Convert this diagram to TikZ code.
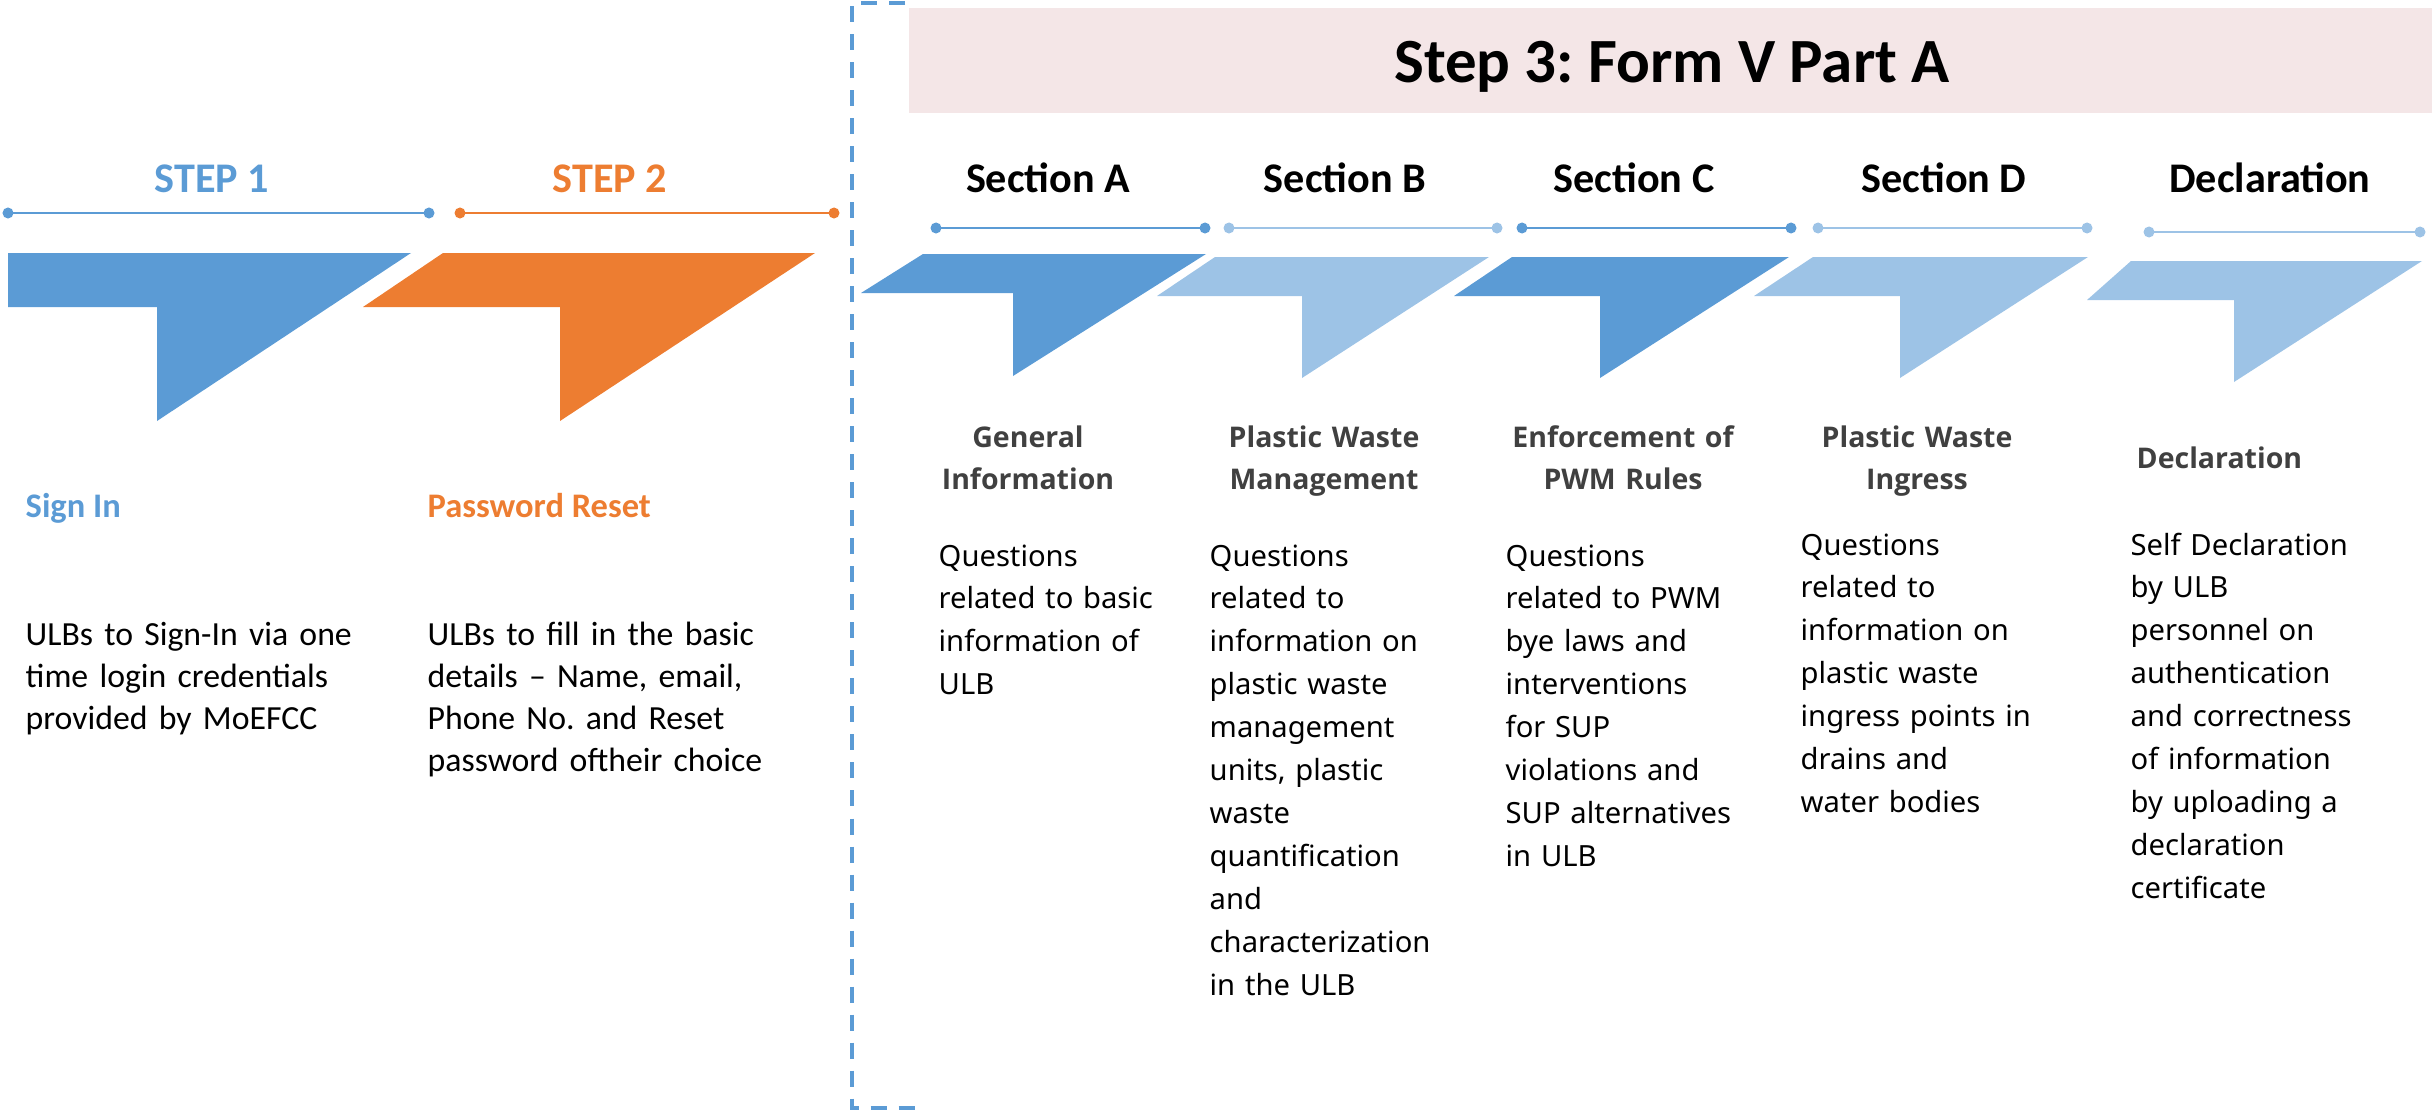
\documentclass[tikz,border=0pt]{standalone}
\usepackage{fontspec}
\setmainfont{Carlito}
\newfontfamily\notosans{Noto Sans}
\newfontfamily\opensans{Open Sans}
\frenchspacing
\definecolor{darkblue}{HTML}{5B9BD5}
\definecolor{lightblue}{HTML}{9DC3E6}
\definecolor{steporange}{HTML}{ED7D31}
\definecolor{bannerpink}{HTML}{F4E6E7}
\definecolor{subgray}{HTML}{404040}
\tikzset{
	dot/.style={circle, fill=#1, inner sep=0pt, minimum size=0.11cm},
	bar/.style={draw=#1, line width=0.85pt},
	head/.style={font=\fontsize{12}{14}\selectfont\bfseries, anchor=base, inner sep=0pt},
	stephead/.style={font=\fontsize{9.8}{12}\selectfont\bfseries, anchor=base west, inner sep=0pt},
	stepbody/.style={font=\fontsize{9.6}{11.95}\selectfont, anchor=base west, inner sep=0pt, text width=4cm, align=left},
	subhead/.style={font=\opensans\fontsize{8.1}{12}\selectfont\bfseries, text=subgray, anchor=base, inner sep=0pt, text width=3cm, align=center},
	secbody/.style={font=\notosans\fontsize{8.3}{12.2}\selectfont, anchor=base west, inner sep=0pt, text width=3cm, align=left}
}
\begin{document}
\begin{tikzpicture}[x=0.01cm, y=-0.01cm]
	\useasboundingbox (0,0) rectangle (2432,1112);
	\fill[bannerpink] (909,8) rectangle (2432,113);
	\node[font=\fontsize{17.9}{20}\selectfont\bfseries, anchor=base, inner sep=0pt] (title) at (1672,82) {Step 3: Form V Part A};
	\draw[darkblue, line width=1pt, dash pattern=on 0.16cm off 0.12cm] (905,3) -- (852,3) -- (852,1108) -- (917,1108);

	\node[head, text=darkblue] (h1) at (212,192) {STEP 1};
	\node[head, text=steporange] (h2) at (610,192) {STEP 2};
	\node[head] (ha) at (1048,192) {Section A};
	\node[head] (hb) at (1345,192) {Section B};
	\node[head] (hc) at (1634,192) {Section C};
	\node[head] (hd) at (1944,192) {Section D};
	\node[head] (he) at (2270,192) {Declaration};

	\node[dot=darkblue] (1a) at (8,213) {};
	\node[dot=darkblue] (1b) at (429,213) {};
	\node[dot=steporange] (2a) at (460,213) {};
	\node[dot=steporange] (2b) at (834,213) {};
	\node[dot=darkblue] (aa) at (936,228) {};
	\node[dot=darkblue] (ab) at (1205,228) {};
	\node[dot=lightblue] (ba) at (1229,228) {};
	\node[dot=lightblue] (bb) at (1497,228) {};
	\node[dot=darkblue] (ca) at (1522,228) {};
	\node[dot=darkblue] (cb) at (1791,228) {};
	\node[dot=lightblue] (da) at (1818,228) {};
	\node[dot=lightblue] (db) at (2087,228) {};
	\node[dot=lightblue] (ea) at (2149,232) {};
	\node[dot=lightblue] (eb) at (2420,232) {};
	\draw[bar=darkblue] (1a.center) to (1b.center);
	\draw[bar=steporange] (2a.center) to (2b.center);
	\draw[bar=darkblue] (aa.center) to (ab.center);
	\draw[bar=lightblue] (ba.center) to (bb.center);
	\draw[bar=darkblue] (ca.center) to (cb.center);
	\draw[bar=lightblue] (da.center) to (db.center);
	\draw[bar=lightblue] (ea.center) to (eb.center);

	\fill[darkblue] (8,253) -- (411,253) -- (157,421) -- (157,307) -- (8,307) -- cycle;
	\fill[steporange] (443,253) -- (815,253) -- (560,421) -- (560,307) -- (363,307) -- cycle;
	\fill[darkblue] (923,254) -- (1206,254) -- (1013,376) -- (1013,293) -- (861,293) -- cycle;
	\fill[lightblue] (1215,257) -- (1489,257) -- (1302,378) -- (1302,296) -- (1157,296) -- cycle;
	\fill[darkblue] (1512,257) -- (1789,257) -- (1600,378) -- (1600,296) -- (1454,296) -- cycle;
	\fill[lightblue] (1813,257) -- (2088,257) -- (1900,378) -- (1900,296) -- (1754,296) -- cycle;
	\fill[lightblue] (2131,261) -- (2422,261) -- (2234,382) -- (2234,300) -- (2087,300) -- cycle;

	\node[stephead, text=darkblue] (sign) at (25,517) {Sign In};
	\node[stephead, text=steporange] (reset) at (427,517) {Password Reset};
	\node[stepbody] (signtxt) at (25,645) {ULBs to Sign-In via one\\time login credentials\\provided by MoEFCC};
	\node[stepbody] (resettxt) at (427,645) {ULBs to fill in the basic\\details – Name, email,\\Phone No. and Reset\\password oftheir choice};

	\node[subhead] (sa) at (1028,447) {General\\Information};
	\node[subhead] (sb) at (1324,447) {Plastic Waste\\Management};
	\node[subhead] (sc) at (1623,447) {Enforcement of\\PWM Rules};
	\node[subhead] (sd) at (1917,447) {Plastic Waste\\Ingress};
	\node[subhead, anchor=base west, align=left] (se) at (2136,468) {Declaration};

	\node[secbody] (ta) at (938,566) {Questions\\related to basic\\information of\\ULB};
	\node[secbody] (tb) at (1209,566) {Questions\\related to\\information on\\plastic waste\\management\\units, plastic\\waste\\quantification\\and\\characterization\\in the ULB};
	\node[secbody] (tc) at (1505,566) {Questions\\related to PWM\\bye laws and\\interventions\\for SUP\\violations and\\SUP alternatives\\in ULB};
	\node[secbody] (td) at (1800,555) {Questions\\related to\\information on\\plastic waste\\ingress points in\\drains and\\water bodies};
	\node[secbody] (te) at (2130,555) {Self Declaration\\by ULB\\personnel on\\authentication\\and correctness\\of information\\by uploading a\\declaration\\certificate};
\end{tikzpicture}
\end{document}
